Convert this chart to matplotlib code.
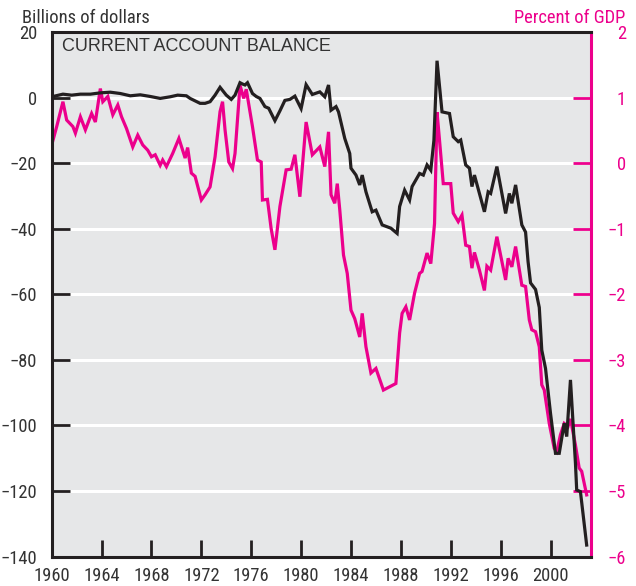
import numpy as np
import matplotlib
matplotlib.use("Agg")
import matplotlib.pyplot as plt
from matplotlib import font_manager
from matplotlib.textpath import TextPath

# current account balance, billions of dollars
bal_years = [1960.0, 1960.9, 1961.6, 1962.3, 1963.1, 1963.9, 1964.7, 1965.5, 1966.3, 1967.1,
             1967.9, 1968.7, 1969.5, 1970.1, 1970.8, 1971.1, 1971.9, 1972.3, 1972.7, 1973.1,
             1973.5, 1974.0, 1974.4, 1974.7, 1975.1, 1975.3, 1975.5, 1975.7, 1976.1, 1976.4,
             1976.7, 1977.1, 1977.4, 1977.9, 1978.3, 1978.7, 1979.1, 1979.5, 1980.0, 1980.4,
             1980.9, 1981.5, 1981.9, 1982.2, 1982.4, 1982.8, 1983.0, 1983.5, 1983.9, 1984.0,
             1984.4, 1984.7, 1984.9, 1985.2, 1985.7, 1986.0, 1986.5, 1987.2, 1987.7, 1987.9,
             1988.3, 1988.7, 1988.9, 1989.5, 1989.8, 1990.1, 1990.4, 1990.65, 1990.9, 1991.3,
             1991.9, 1992.2, 1992.6, 1992.8, 1993.2, 1993.5, 1993.7, 1993.9, 1994.3, 1994.7,
             1995.0, 1995.2, 1995.7, 1996.4, 1996.7, 1996.9, 1997.2, 1997.7, 1998.0, 1998.2,
             1998.4, 1998.8, 1999.1, 1999.3, 1999.6, 2000.0, 2000.4, 2000.7, 2001.1, 2001.3,
             2001.6, 2002.0, 2002.1, 2002.4, 2002.9]
bal_values = [0.3, 1.1, 0.8, 1.1, 1.1, 1.5, 1.7, 1.3, 0.6, 0.9,
              0.4, -0.2, 0.3, 0.8, 0.6, -0.2, -1.7, -1.7, -1.2, 0.8,
              3.2, 0.8, -0.5, 0.8, 4.6, 4.2, 3.9, 4.6, 1.3, 0.4,
              -0.2, -2.7, -3.2, -7.0, -4.0, -0.8, -0.5, 0.5, -3.3, 4.0,
              1.0, 1.8, 0.3, 3.9, -3.8, -2.7, -4.3, -12.4, -17.0, -21.5,
              -23.6, -26.6, -23.6, -28.7, -34.8, -34.3, -38.8, -39.8, -41.4, -33.2,
              -28.2, -31.2, -27.1, -23.1, -23.6, -20.5, -22.1, -13.0, 11.3, -4.3,
              -4.8, -11.9, -13.4, -12.9, -20.5, -21.5, -27.1, -23.6, -29.2, -34.8,
              -28.7, -29.2, -21.0, -35.3, -29.2, -32.2, -26.6, -38.8, -41.0, -50.0,
              -56.5, -58.5, -64.0, -77.0, -82.6, -96.3, -108.5, -108.5, -99.3, -103.4,
              -86.1, -111.5, -119.7, -120.2, -136.5]

# current account balance, percent of GDP
pct_years = [1960.0, 1960.4, 1960.9, 1961.2, 1961.7, 1961.9, 1962.3, 1962.7, 1963.2, 1963.5,
             1963.9, 1964.1, 1964.5, 1964.9, 1965.3, 1965.6, 1966.0, 1966.5, 1966.9, 1967.3,
             1967.7, 1968.0, 1968.3, 1968.7, 1968.9, 1969.2, 1969.7, 1970.2, 1970.7, 1970.9,
             1971.2, 1971.5, 1972.0, 1972.3, 1972.7, 1973.1, 1973.5, 1973.7, 1973.9, 1974.2,
             1974.5, 1974.7, 1975.1, 1975.4, 1975.6, 1976.1, 1976.5, 1976.8, 1976.9, 1977.3,
             1977.6, 1977.9, 1978.3, 1978.8, 1979.2, 1979.5, 1979.9, 1980.4, 1980.9, 1981.5,
             1981.9, 1982.2, 1982.4, 1982.7, 1982.9, 1983.1, 1983.4, 1983.7, 1984.0, 1984.3,
             1984.7, 1984.9, 1985.2, 1985.6, 1986.0, 1986.6, 1987.1, 1987.6, 1987.9, 1988.1,
             1988.4, 1988.7, 1989.1, 1989.5, 1989.7, 1990.1, 1990.4, 1990.7, 1990.9, 1991.1,
             1991.4, 1992.0, 1992.2, 1992.6, 1992.9, 1993.2, 1993.5, 1993.7, 1993.9, 1994.3,
             1994.7, 1994.9, 1995.2, 1995.7, 1996.4, 1996.6, 1996.9, 1997.2, 1997.7, 1998.0,
             1998.3, 1998.5, 1998.8, 1999.1, 1999.3, 1999.5, 1999.9, 2000.3, 2000.5, 2000.8,
             2001.1, 2001.4, 2001.6, 2002.0, 2002.3, 2002.5, 2002.9]
pct_values = [0.28, 0.56, 0.94, 0.66, 0.56, 0.46, 0.71, 0.51, 0.76, 0.63,
              1.14, 0.94, 1.02, 0.74, 0.89, 0.71, 0.53, 0.25, 0.43, 0.28,
              0.20, 0.10, 0.13, -0.03, 0.05, -0.05, 0.15, 0.38, 0.08, 0.24,
              -0.15, -0.20, -0.56, -0.48, -0.36, 0.10, 0.79, 0.94, 0.51, 0.02,
              -0.08, 0.15, 1.19, 0.99, 1.13, 0.56, 0.05, 0.02, -0.56, -0.55,
              -1.00, -1.32, -0.66, -0.10, -0.09, 0.13, -0.51, 0.63, 0.13, 0.25,
              -0.05, 0.48, -0.48, -0.61, -0.31, -0.71, -1.40, -1.68, -2.24, -2.37,
              -2.65, -2.29, -2.80, -3.20, -3.13, -3.46, -3.41, -3.36, -2.59, -2.29,
              -2.19, -2.39, -1.98, -1.68, -1.65, -1.37, -1.53, -0.92, 0.78, 0.35,
              -0.31, -0.31, -0.76, -0.89, -0.79, -1.25, -1.27, -1.60, -1.36, -1.63,
              -1.94, -1.57, -1.63, -1.12, -1.78, -1.45, -1.58, -1.27, -1.86, -1.88,
              -2.39, -2.54, -2.57, -2.80, -3.38, -3.46, -3.97, -4.35, -4.40, -4.14,
              -3.97, -4.02, -3.90, -4.30, -4.65, -4.70, -5.06]

left_ticks = np.arange(-140, 21, 20)
right_ticks = np.arange(-6, 3, 1)
year_ticks = np.arange(1960, 2001, 4)

pink = "#ec008c"
dark = "#231f20"
bg = "#e6e7e8"


def narrow_font():
    # pick the installed sans face whose digits come closest to the
    # reference's condensed look ("1960" about 32px wide, 15px tall)
    target = 32.0 / 15.0
    keep = ("dejavu sans", "liberation sans", "noto sans", "roboto", "open sans", "lato", "inter")
    best, best_err = None, None
    for f in font_manager.fontManager.ttflist:
        nm = f.name.lower()
        if not nm.startswith(keep) or "mono" in nm or "cjk" in nm:
            continue
        if f.style != "normal" or f.weight not in ("normal", "regular", 400):
            continue
        try:
            p = font_manager.FontProperties(fname=f.fname, size=10)
            w = TextPath((0, 0), "1960", prop=p).get_extents().width
            h = TextPath((0, 0), "1", prop=p).get_extents().height
        except Exception:
            continue
        if h <= 0:
            continue
        err = abs(w / h - target)
        if best_err is None or err < best_err:
            best, best_err, best_w = f.fname, err, w
    if best is None:
        return font_manager.FontProperties(family="DejaVu Sans", size=11)
    # size so that "1960" is about 34px wide at 100 dpi
    size = 10 * (34 * 0.72) / best_w
    return font_manager.FontProperties(fname=best, size=size)


fp = narrow_font()

fig = plt.figure(figsize=(6.36, 5.86), dpi=100)
ax = fig.add_axes([0.0813, 0.0503, 0.848, 0.8947])
ax2 = ax.twinx()

# pink series sits on the bottom axes, black series on top
ax.set_zorder(ax2.get_zorder() + 1)
ax.patch.set_visible(False)
ax2.patch.set_visible(True)
ax2.patch.set_facecolor(bg)

ax2.plot(pct_years, pct_values, color=pink, lw=2.3, solid_joinstyle="miter")
ax.plot(bal_years, bal_values, color=dark, lw=2.3, solid_joinstyle="miter")

ax.set_xlim(1960, 2003.25)
ax.set_ylim(-140, 20)
ax2.set_ylim(-6, 2)

ax2.set_yticks(right_ticks)
ax2.grid(axis="y", color="white", lw=2.2)
ax2.set_axisbelow(True)

ax.set_yticks(left_ticks)
ax.set_yticklabels([str(v).replace("-", "\u2212") for v in left_ticks])
ax.set_xticks(year_ticks)
ax.set_xticklabels([str(y) for y in year_ticks])
ax2.set_yticklabels([str(v).replace("-", "\u2212") for v in right_ticks])

ax.tick_params(axis="y", direction="in", length=13, width=2, color=dark, pad=10.5,
               labelcolor="#333333")
ax.tick_params(axis="x", direction="in", length=12, width=2, color=dark, pad=7.5,
               labelcolor="#333333")
ax2.tick_params(axis="y", direction="in", length=13, width=2, color=pink, pad=25,
                labelcolor=pink)
for lab in ax2.get_yticklabels():
    lab.set_horizontalalignment("right")
for lab in ax.get_xticklabels() + ax.get_yticklabels() + ax2.get_yticklabels():
    lab.set_fontproperties(fp)

for s in ["left", "top", "bottom"]:
    ax.spines[s].set_color(dark)
    ax.spines[s].set_linewidth(2.2)
    ax2.spines[s].set_visible(False)
ax.spines["right"].set_visible(False)
ax2.spines["right"].set_color(pink)
ax2.spines["right"].set_linewidth(2.2)

ax.text(0.019, 0.972, "CURRENT ACCOUNT BALANCE", transform=ax.transAxes,
        ha="left", va="center", fontsize=13, color="#333333",
        family=["Liberation Sans", "DejaVu Sans"])

fig.text(22 / 636, 1 - 18 / 586, "Billions of dollars", ha="left", va="center",
         color="#333333", fontproperties=fp)
fig.text(625 / 636, 1 - 18 / 586, "Percent of GDP", ha="right", va="center",
         color=pink, fontproperties=fp)

fig.savefig("out.png", dpi=100)
